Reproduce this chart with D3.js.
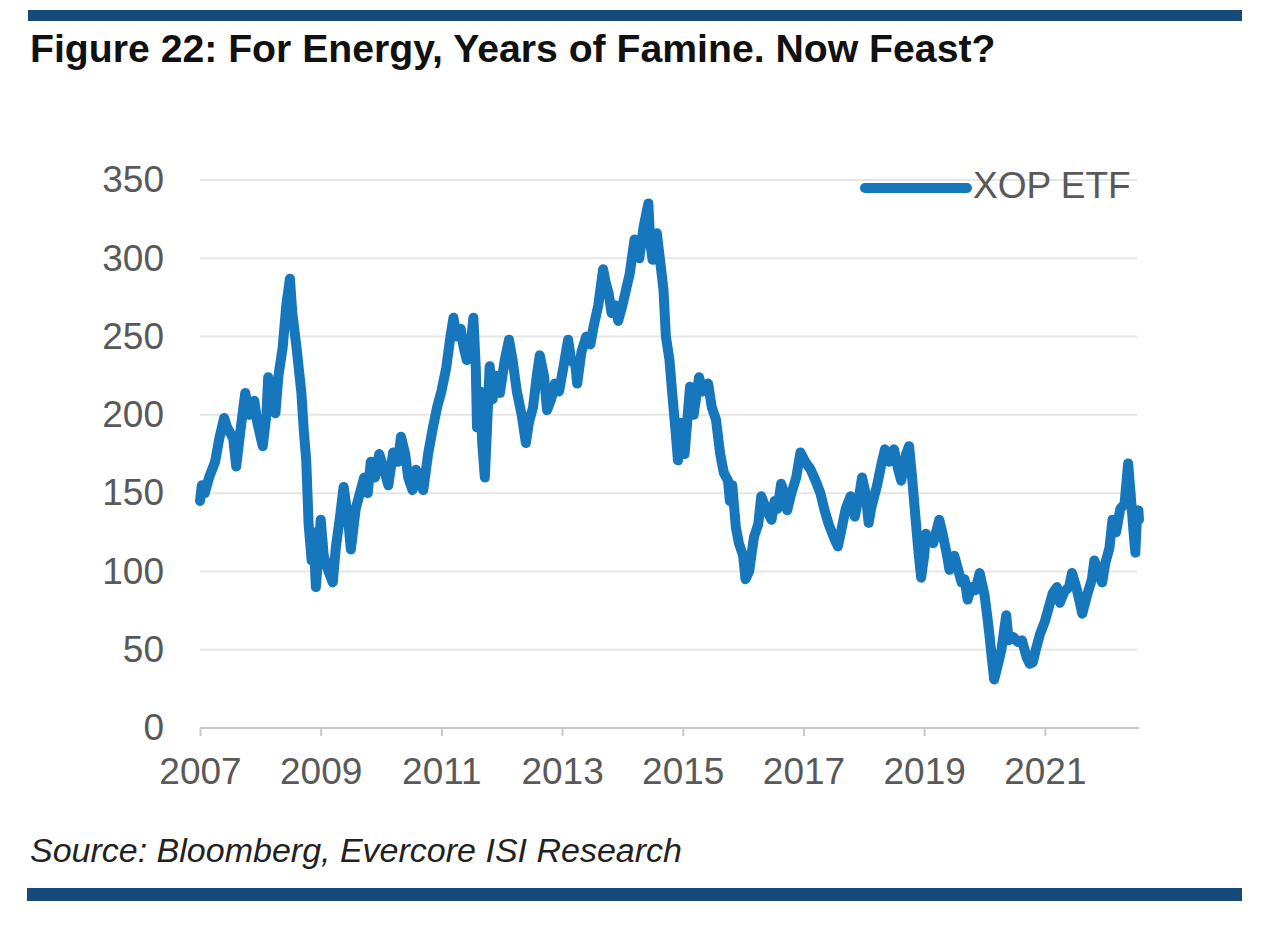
<!DOCTYPE html>
<html>
<head>
<meta charset="utf-8">
<script src="https://cdn.jsdelivr.net/npm/d3@7"></script>
<style>
  html, body { margin: 0; padding: 0; background: #ffffff; }
  svg { display: block; }
  text { font-family: "Liberation Sans", Arial, Helvetica, sans-serif; }
</style>
</head>
<body>
<svg id="chart" width="1280" height="933"></svg>
<script>
// ---- Data ----
const seriesName = "XOP ETF";
const titleText = "Figure 22: For Energy, Years of Famine. Now Feast?";
const sourceText = "Source: Bloomberg, Evercore ISI Research";
const yTickValues = [0, 50, 100, 150, 200, 250, 300, 350];
const xTickValues = [2007, 2009, 2011, 2013, 2015, 2017, 2019, 2021];

// decimal year
const dates = [
2007.00,2007.03,2007.08,2007.15,2007.25,2007.32,2007.40,2007.45,2007.55,2007.60,
2007.67,2007.75,2007.82,2007.90,2007.95,2008.04,2008.10,2008.13,2008.20,2008.25,
2008.30,2008.37,2008.43,2008.49,2008.53,2008.60,2008.68,2008.72,2008.76,2008.80,
2008.85,2008.88,2008.92,2008.97,2009.00,2009.05,2009.13,2009.20,2009.25,2009.32,
2009.38,2009.45,2009.50,2009.58,2009.65,2009.72,2009.78,2009.83,2009.90,2009.97,
2010.05,2010.12,2010.20,2010.28,2010.33,2010.40,2010.45,2010.52,2010.58,2010.65,
2010.70,2010.78,2010.85,2010.93,2011.00,2011.08,2011.15,2011.20,2011.25,2011.32,
2011.37,2011.42,2011.50,2011.53,2011.57,2011.59,2011.64,2011.68,2011.72,2011.76,
2011.80,2011.85,2011.90,2011.97,2012.05,2012.12,2012.18,2012.25,2012.33,2012.40,
2012.45,2012.52,2012.58,2012.63,2012.70,2012.75,2012.82,2012.88,2012.95,2013.02,
2013.10,2013.15,2013.22,2013.25,2013.32,2013.40,2013.47,2013.52,2013.60,2013.68,
2013.72,2013.77,2013.82,2013.88,2013.93,2014.00,2014.06,2014.12,2014.20,2014.28,
2014.35,2014.43,2014.46,2014.50,2014.57,2014.62,2014.68,2014.72,2014.78,2014.82,
2014.88,2014.92,2014.97,2015.03,2015.12,2015.18,2015.27,2015.33,2015.42,2015.48,
2015.55,2015.62,2015.68,2015.75,2015.78,2015.82,2015.88,2015.93,2016.00,2016.04,
2016.10,2016.18,2016.25,2016.30,2016.38,2016.47,2016.52,2016.57,2016.63,2016.70,
2016.73,2016.80,2016.88,2016.95,2017.03,2017.12,2017.20,2017.28,2017.35,2017.42,
2017.50,2017.57,2017.62,2017.70,2017.78,2017.85,2017.93,2017.97,2018.03,2018.08,
2018.12,2018.22,2018.30,2018.35,2018.42,2018.50,2018.57,2018.62,2018.70,2018.75,
2018.80,2018.85,2018.90,2018.95,2019.00,2019.03,2019.10,2019.15,2019.25,2019.30,
2019.38,2019.42,2019.50,2019.55,2019.62,2019.67,2019.72,2019.78,2019.85,2019.92,
2019.96,2020.00,2020.05,2020.08,2020.12,2020.16,2020.22,2020.28,2020.36,2020.40,
2020.48,2020.55,2020.62,2020.70,2020.75,2020.80,2020.85,2020.92,2021.00,2021.05,
2021.13,2021.20,2021.25,2021.32,2021.40,2021.45,2021.52,2021.58,2021.62,2021.70,
2021.78,2021.82,2021.88,2021.95,2022.00,2022.07,2022.12,2022.18,2022.25,2022.32,
2022.38,2022.42,2022.47,2022.50,2022.52,2022.55,2022.56
];
const values = [
145,155,150,160,170,185,198,192,185,167,
190,214,200,209,195,180,200,224,205,201,
225,243,270,287,265,243,214,190,171,130,
107,125,90,115,133,110,100,93,115,135,
154,135,114,140,150,160,150,170,160,175,
165,155,176,170,186,175,160,152,165,155,
152,175,190,205,215,230,250,262,250,255,
243,235,250,262,230,192,215,180,160,195,
231,210,225,214,235,248,235,215,200,182,
195,205,225,238,225,203,210,220,215,230,
248,235,232,220,240,250,245,256,270,293,
285,278,265,270,260,270,280,290,312,300,
320,335,310,299,316,300,280,250,235,216,
190,171,195,175,218,200,224,215,220,205,
197,175,163,158,145,155,128,118,110,95,
100,122,130,148,140,133,145,140,156,148,
139,150,160,176,170,165,158,150,139,130,
122,116,125,140,148,135,150,160,150,131,
140,155,170,178,170,178,165,158,175,180,
160,137,115,96,110,124,120,118,133,125,
110,101,110,103,93,95,82,90,88,99,
92,85,70,60,45,31,40,50,72,56,
58,55,56,45,41,42,50,60,68,75,
86,90,80,87,90,99,90,80,73,85,
95,107,100,93,105,115,133,125,140,143,
169,150,125,112,130,139,133
];

const data = dates.map((d, i) => ({ t: d, v: values[i] }));

// ---- Layout ----
const svg = d3.select("#chart");
const plot = { left: 200, right: 1139, top: 180, bottom: 728 };
const navy = "#164a7a";
const lineColor = "#1777bd";
const axisText = "#595959";

// frame bars
svg.append("rect").attr("x", 28).attr("y", 10).attr("width", 1214).attr("height", 11).attr("fill", navy);
svg.append("rect").attr("x", 27).attr("y", 888).attr("width", 1215).attr("height", 13).attr("fill", navy);

// title
svg.append("text")
  .attr("x", 30).attr("y", 62)
  .attr("font-size", 39.2).attr("font-weight", "bold").attr("fill", "#111")
  .text(titleText);

// source
svg.append("text")
  .attr("x", 30).attr("y", 862)
  .attr("font-size", 34).attr("font-style", "italic").attr("fill", "#222")
  .text(sourceText);

// scales
const x = d3.scaleLinear().domain([2007, 2022.56]).range([plot.left, plot.right]);
const y = d3.scaleLinear().domain([0, 350]).range([plot.bottom, plot.top]);

// grid lines
svg.append("g").selectAll("line")
  .data(yTickValues.filter(v => v > 0))
  .join("line")
  .attr("x1", plot.left).attr("x2", plot.right - 2)
  .attr("y1", d => y(d)).attr("y2", d => y(d))
  .attr("stroke", "#e6e6e6").attr("stroke-width", 2);

// y axis (labels only)
const yAxis = svg.append("g")
  .attr("transform", `translate(${plot.left},0)`)
  .call(d3.axisLeft(y).tickValues(yTickValues).tickSize(0).tickPadding(36).tickFormat(d3.format("d")));
yAxis.select(".domain").remove();
yAxis.selectAll("text").attr("font-size", 37).attr("fill", axisText).attr("font-family", '"Liberation Sans", Arial, sans-serif');

// x axis
const xAxis = svg.append("g")
  .attr("transform", `translate(0,${plot.bottom})`)
  .call(d3.axisBottom(x).tickValues(xTickValues).tickSize(8).tickPadding(22).tickFormat(d3.format("d")));
xAxis.select(".domain").attr("stroke", "#c8c8c8").attr("stroke-width", 2)
  .attr("d", `M${plot.left},0H${plot.right}`);
xAxis.selectAll(".tick line").attr("stroke", "#c8c8c8").attr("stroke-width", 2);
xAxis.selectAll("text").attr("font-size", 37).attr("fill", axisText).attr("font-family", '"Liberation Sans", Arial, sans-serif');

// line
const line = d3.line().x(d => x(d.t)).y(d => y(d.v));
svg.append("path")
  .datum(data)
  .attr("d", line)
  .attr("fill", "none")
  .attr("stroke", lineColor)
  .attr("stroke-width", 10)
  .attr("stroke-linejoin", "round")
  .attr("stroke-linecap", "round");

// legend
const lg = svg.append("g").attr("transform", "translate(865,188)");
lg.append("line").attr("x1", 0).attr("x2", 102).attr("y1", 0).attr("y2", 0)
  .attr("stroke", lineColor).attr("stroke-width", 10).attr("stroke-linecap", "round");
lg.append("text").attr("x", 108).attr("y", 10)
  .attr("font-size", 37).attr("fill", axisText)
  .text(seriesName);
</script>
</body>
</html>
